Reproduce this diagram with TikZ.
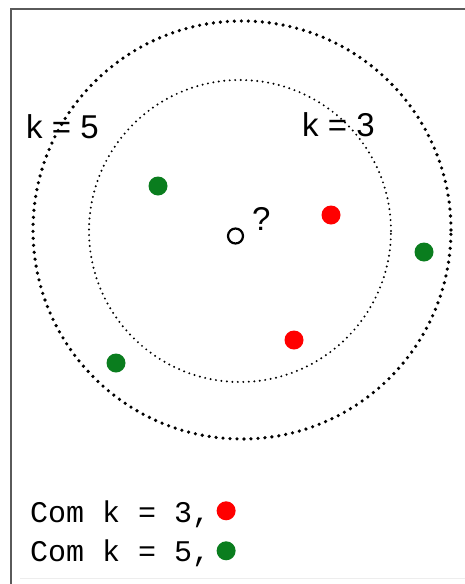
\documentclass[tikz,border=0pt]{standalone}
\usepackage{fontspec}
\setmainfont{Liberation Sans}
\setmonofont{Liberation Mono}
\usetikzlibrary{positioning}
\definecolor{knnred}{HTML}{FF0000}
\definecolor{knngreen}{HTML}{0A7D1E}
\definecolor{knnframe}{HTML}{5A5A5A}

\begin{document}
\begin{tikzpicture}[x=1pt, y=-1pt,
  pt/.style={circle, fill=#1, inner sep=0pt, minimum size=19pt},
  klabel/.style={font=\fontsize{33}{36}\selectfont, inner sep=0pt, anchor=base west},
  legend/.style={font=\ttfamily\fontsize{30}{34}\selectfont, inner sep=0pt, anchor=base west}]
  \useasboundingbox (0,0) rectangle (465,584);
  % frame
  \draw[knnframe, line width=1.5pt] (11,584) -- (11,9) -- (465,9);
  \draw[black!7, line width=1pt] (20,578) -- (465,578);

  % neighbourhoods
  \draw[line width=3.6pt, line cap=round, dash pattern=on 0pt off 7pt] (242,230) circle[radius=209pt];
  \draw[line width=2.2pt, line cap=round, dash pattern=on 0pt off 5.5pt] (240,231) circle[radius=151pt];
  \node[klabel] (k5) at (26,138) {k = 5};
  \node[klabel] (k3) at (302,136) {k = 3};

  % query point and samples
  \node[circle, draw, line width=2.2pt, inner sep=0pt, minimum size=15pt] (query) at (235.5,236) {};
  \node[klabel] (qmark) at (252,230) {?};
  \node[pt=knngreen] (g1) at (158,186) {};
  \node[pt=knngreen] (g2) at (424,252) {};
  \node[pt=knngreen] (g3) at (116,363) {};
  \node[pt=knnred] (r1) at (331,215) {};
  \node[pt=knnred] (r2) at (294,340) {};

  % legend
  \node[legend] (leg3) at (30,522) {Com k = 3,};
  \node[legend] (leg5) at (30,561) {Com k = 5,};
  \node[pt=knnred, right=6pt of leg3.east, yshift=3pt] (lr) {};
  \node[pt=knngreen, right=6pt of leg5.east, yshift=2pt] (lg) {};
\end{tikzpicture}
\end{document}
